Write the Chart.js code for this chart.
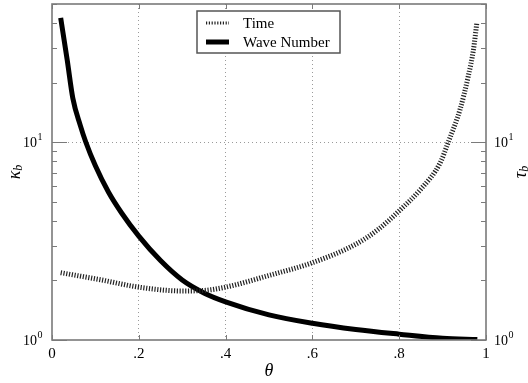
<!DOCTYPE html>
<html>
<head>
<meta charset="utf-8">
<script src="https://cdn.jsdelivr.net/npm/chart.js@4/dist/chart.umd.min.js"></script>
<style>
    html, body { margin: 0; padding: 0; background: #fff; }
    #wrap { width: 528px; height: 383px; }
</style>
</head>
<body>
<div id="wrap"><canvas id="chart" width="528" height="383"></canvas></div>
<script>
// values (theta on x, log-scaled y)
const WAVE_THETA = [0.02, 0.035, 0.048, 0.065, 0.078, 0.1, 0.13, 0.16, 0.2, 0.25, 0.3, 0.35, 0.4, 0.5, 0.6, 0.7, 0.8, 0.9, 0.98];
const WAVE_VALUES = [42.5, 26.1, 16.7, 12.2, 10.0, 7.6, 5.6, 4.4, 3.35, 2.52, 2.01, 1.73, 1.56, 1.34, 1.215, 1.13, 1.07, 1.02, 1.006];

const TIME_THETA = [0.02, 0.115, 0.2, 0.3, 0.35, 0.4, 0.5, 0.6, 0.7, 0.75, 0.8, 0.85, 0.894, 0.913, 0.94, 0.959, 0.971, 0.979];
const TIME_VALUES = [2.19, 2.01, 1.85, 1.77, 1.78, 1.85, 2.12, 2.46, 3.05, 3.6, 4.5, 5.8, 7.83, 10, 14.6, 21.5, 29.3, 40.3];

const X_TICKS = [0, 0.2, 0.4, 0.6, 0.8, 1];
const X_TICK_LABELS = ["0", ".2", ".4", ".6", ".8", "1"];
const Y_TICKS = [1, 2, 3, 4, 5, 6, 7, 8, 9, 10, 20, 30, 40, 50];
const Y_MAJOR = [1, 10];
const Y_MAJOR_EXP = ["0", "1"];

const SERIF = "'Liberation Serif', 'DejaVu Serif', serif";
const FRAME = "#7a7a7a";
const GRID = "#9a9a9a";

function toPoints(xs, ys) {
    return xs.map((x, i) => ({ x, y: ys[i] }));
}

function drawPower(ctx, x, y, base, exp, align) {
    ctx.font = "14px " + SERIF;
    const bw = ctx.measureText(base).width;
    ctx.font = "10px " + SERIF;
    const ew = ctx.measureText(exp).width;
    const left = align === "right" ? x - bw - ew : x;
    ctx.textAlign = "left";
    ctx.textBaseline = "middle";
    ctx.font = "14px " + SERIF;
    ctx.fillText(base, left, y + 1);
    ctx.font = "10px " + SERIF;
    ctx.fillText(exp, left + bw + 0.5, y - 5);
}

function drawSubLabel(ctx, cx, cy, main, sub) {
    ctx.save();
    ctx.translate(cx, cy);
    ctx.rotate(-Math.PI / 2);
    ctx.font = "italic 18px " + SERIF;
    const mw = ctx.measureText(main).width;
    ctx.font = "italic 12px " + SERIF;
    const sw = ctx.measureText(sub).width;
    const start = -(mw + sw) / 2;
    ctx.textAlign = "left";
    ctx.textBaseline = "middle";
    ctx.font = "italic 18px " + SERIF;
    ctx.fillText(main, start, 0);
    ctx.font = "italic 12px " + SERIF;
    ctx.fillText(sub, start + mw, 4);
    ctx.restore();
}

const framePlugin = {
    id: "frame",
    afterDraw(chart) {
        const { ctx, chartArea: a, scales } = chart;
        const xs = scales.x;
        const ys = scales.y;
        ctx.save();

        // frame
        ctx.strokeStyle = FRAME;
        ctx.lineWidth = 1.6;
        ctx.strokeRect(a.left, a.top, a.right - a.left, a.bottom - a.top);

        // inward ticks
        ctx.lineWidth = 1;
        ctx.beginPath();
        X_TICKS.forEach((v) => {
            const px = Math.round(xs.getPixelForValue(v)) + 0.5;
            ctx.moveTo(px, a.bottom); ctx.lineTo(px, a.bottom - 5);
            ctx.moveTo(px, a.top); ctx.lineTo(px, a.top + 5);
        });
        Y_TICKS.forEach((v) => {
            const py = Math.round(ys.getPixelForValue(v)) + 0.5;
            const len = Y_MAJOR.includes(v) ? 15 : 5;
            ctx.moveTo(a.left, py); ctx.lineTo(a.left + len, py);
            ctx.moveTo(a.right, py); ctx.lineTo(a.right - len, py);
        });
        ctx.stroke();

        // y tick labels, both sides
        ctx.fillStyle = "#000";
        Y_MAJOR.forEach((v, i) => {
            const py = ys.getPixelForValue(v);
            drawPower(ctx, a.left - 10, py, "10", Y_MAJOR_EXP[i], "right");
            drawPower(ctx, a.right + 8, py, "10", Y_MAJOR_EXP[i], "left");
        });

        // axis titles
        ctx.font = "italic 18px " + SERIF;
        ctx.textAlign = "center";
        ctx.textBaseline = "middle";
        ctx.fillText("\u03b8", (a.left + a.right) / 2, 371);
        drawSubLabel(ctx, 15, 172, "\u03ba", "b");
        drawSubLabel(ctx, 521, 172, "\u03c4", "b");

        // legend
        const lx = 197, ly = 11, lw = 143, lh = 42;
        ctx.fillStyle = "#fff";
        ctx.fillRect(lx, ly, lw, lh);
        ctx.strokeStyle = "#555";
        ctx.lineWidth = 1.5;
        ctx.strokeRect(lx, ly, lw, lh);
        chart.data.datasets.forEach((ds, i) => {
            const rowY = ly + 12 + i * 19;
            ctx.beginPath();
            ctx.strokeStyle = ds.borderColor;
            ctx.lineWidth = i === 0 ? 3 : 5;
            ctx.setLineDash(ds.borderDash || []);
            ctx.lineCap = "butt";
            ctx.moveTo(lx + 9, rowY);
            ctx.lineTo(lx + 32, rowY);
            ctx.stroke();
            ctx.setLineDash([]);
            ctx.fillStyle = "#000";
            ctx.font = "15px " + SERIF;
            ctx.textAlign = "left";
            ctx.textBaseline = "middle";
            ctx.fillText(ds.label, lx + 46, rowY + 1);
        });
        ctx.restore();
    },
};

new Chart(document.getElementById("chart"), {
    type: "line",
    data: {
        datasets: [
            {
                label: "Time",
                data: toPoints(TIME_THETA, TIME_VALUES),
                yAxisID: "y2",
                borderColor: "#222",
                borderWidth: 5,
                borderDash: [1.2, 1.6],
                pointRadius: 0,
                cubicInterpolationMode: "monotone",
                fill: false,
            },
            {
                label: "Wave Number",
                data: toPoints(WAVE_THETA, WAVE_VALUES),
                yAxisID: "y",
                borderColor: "#000",
                borderWidth: 5,
                pointRadius: 0,
                cubicInterpolationMode: "monotone",
                fill: false,
            },
        ],
    },
    options: {
        responsive: false,
        animation: false,
        layout: { padding: { top: 4 } },
        plugins: { legend: { display: false }, tooltip: { enabled: false } },
        scales: {
            x: {
                type: "linear",
                min: 0,
                max: 1,
                afterBuildTicks: (s) => { s.ticks = X_TICKS.map((v) => ({ value: v })); },
                afterFit: (s) => { s.height = 43; },
                ticks: {
                    color: "#000",
                    font: { family: SERIF, size: 15 },
                    padding: 5,
                    maxRotation: 0,
                    callback: (v) => X_TICK_LABELS[X_TICKS.indexOf(v)] ?? "",
                },
                border: { display: false, dash: [1, 3] },
                grid: {
                    drawTicks: false,
                    lineWidth: 1,
                    color: (c) => (c.tick && c.tick.value > 0 && c.tick.value < 1 ? GRID : "transparent"),
                },
            },
            y: {
                type: "logarithmic",
                position: "left",
                min: 1,
                max: 50,
                afterBuildTicks: (s) => { s.ticks = Y_TICKS.map((v) => ({ value: v })); },
                afterFit: (s) => { s.width = 52; },
                ticks: { display: false },
                border: { display: false, dash: [1, 3] },
                grid: {
                    drawTicks: false,
                    lineWidth: 1,
                    color: (c) => (c.tick && c.tick.value === 10 ? GRID : "transparent"),
                },
            },
            y2: {
                type: "logarithmic",
                position: "right",
                min: 1,
                max: 50,
                afterBuildTicks: (s) => { s.ticks = Y_TICKS.map((v) => ({ value: v })); },
                afterFit: (s) => { s.width = 42; },
                ticks: { display: false },
                border: { display: false },
                grid: { display: false },
            },
        },
    },
    plugins: [framePlugin],
});
</script>
</body>
</html>
